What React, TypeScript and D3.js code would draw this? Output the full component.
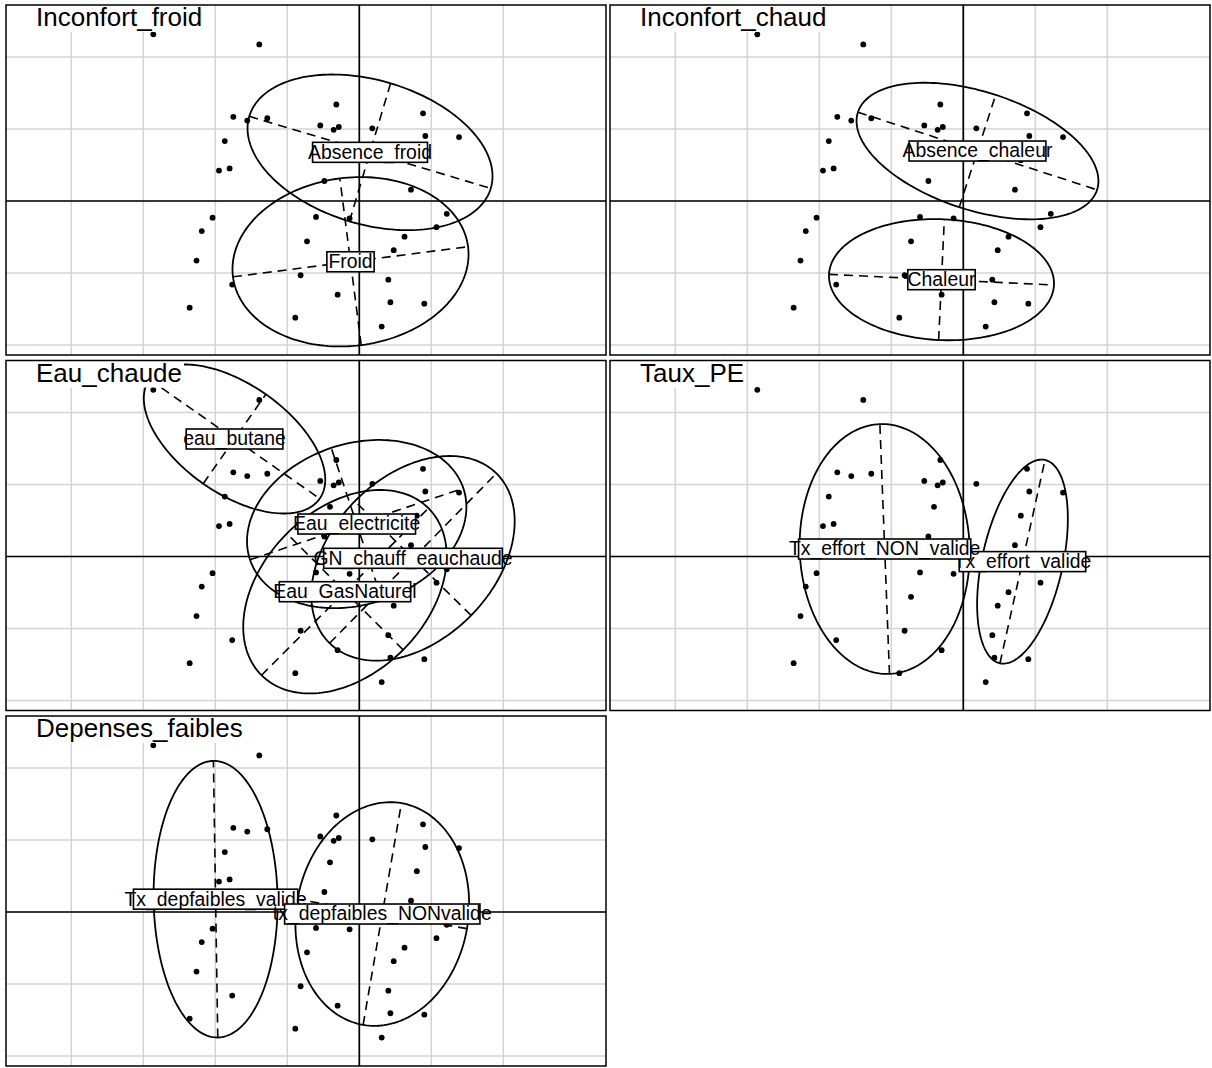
import React from "react";
import * as d3 from "d3";

// Individuals (same coordinates in every panel), in grid units (d = 1)
const pointX = [
  -2.861, -1.389, -0.319, -1.75, -1.556, -1.278, -0.542, -0.356, -0.285, 0.181,
  0.885, 0.917, 1.385, -1.868, -0.407, 0.799, -1.949, -1.801, -0.485, 0.718,
  -2.038, -0.601, -0.135, -2.188, 1.072, 0.628, -0.726, 0.478, -2.261, -0.815,
  0.403, -1.765, -0.301, 0.432, 0.903, -2.356, -0.889, 0.311, 1.215,
];
const pointY = [
  2.315, 2.174, 1.34, 1.169, 1.117, 1.149, 1.049, 0.989, 1.028, 1.01,
  1.218, 0.903, 0.888, 0.832, 0.69, 0.567, 0.422, 0.453, 0.278, 0.157,
  -0.232, -0.221, -0.24, -0.418, -0.364, -0.496, -0.56, -0.683, -0.828, -1.031,
  -1.093, -1.161, -1.301, -1.406, -1.426, -1.481, -1.621, -1.744, -0.178,
];

// Grid positions (grid units)
const gridXValues = [-4, -3, -2, -1, 0, 1, 2];
const gridYValues = [-2, -1, 0, 1, 2];

const panelTitles = [
  "Inconfort_froid",
  "Inconfort_chaud",
  "Eau_chaude",
  "Taux_PE",
  "Depenses_faibles",
];

// Class ellipses: centre (cx, cy), semi-axes a, b, angle of major axis (deg)
const classesInconfortFroid = [
  { label: "Absence_froid", cx: 0.149, cy: 0.676, a: 1.75, b: 1.0, angle: -16.6 },
  { label: "Froid", cx: -0.122, cy: -0.844, a: 1.646, b: 1.167, angle: 7.3 },
];
const classesInconfortChaud = [
  { label: "Absence_chaleur", cx: 0.197, cy: 0.694, a: 1.746, b: 0.82, angle: -18 },
  { label: "Chaleur", cx: -0.303, cy: -1.093, a: 1.564, b: 0.839, angle: -2.7 },
];
const classesEauChaude = [
  { label: "Eau_GasNaturel", cx: -0.199, cy: -0.489, a: 1.64, b: 1.142, angle: 45 },
  { label: "Eau_electricite", cx: -0.036, cy: 0.451, a: 1.5625, b: 1.115, angle: 18.5 },
  { label: "GN_chauff_eauchaude", cx: 0.746, cy: -0.025, a: 1.653, b: 1.132, angle: 45.5 },
  { label: "eau_butane", cx: -1.733, cy: 1.632, a: 1.444, b: 0.758, angle: -35 },
];
const classesTauxPE = [
  { label: "Tx_effort_valide", cx: 0.822, cy: -0.071, a: 1.446, b: 0.56, angle: 77.5 },
  { label: "Tx_effort_NON_valide", cx: -1.092, cy: 0.104, a: 1.736, b: 1.18, angle: 92.2 },
];
const classesDepensesFaibles = [
  { label: "Tx_depfaibles_valide", cx: -1.996, cy: 0.178, a: 1.921, b: 0.861, angle: 90.9 },
  { label: "tx_depfaibles_NONvalide", cx: 0.319, cy: -0.028, a: 1.5625, b: 1.194, angle: 80.2 },
];

const panelClasses = [
  classesInconfortFroid,
  classesInconfortChaud,
  classesEauChaude,
  classesTauxPE,
  classesDepensesFaibles,
];

const SVG_W = 1212;
const SVG_H = 1068;
const PW = 600;
const PH = 350;
const UNIT = 72;
const ORIGIN_X = 353.3;
const ORIGIN_Y = 196;
const FONT = '"Liberation Sans", Arial, Helvetica, sans-serif';
const LABEL_SIZE = 19.4;
const TITLE_SIZE = 26;

let ctx: CanvasRenderingContext2D | null = null;
function measure(text: string, size: number): number {
  if (!ctx) {
    const c = document.createElement("canvas");
    ctx = c.getContext("2d");
  }
  if (!ctx) return text.length * size * 0.5;
  ctx.font = `${size}px "Liberation Sans", Arial, sans-serif`;
  return ctx.measureText(text).width;
}

type Cls = { label: string; cx: number; cy: number; a: number; b: number; angle: number };

function Panel({ title, classes, left, top, idx }: { title: string; classes: Cls[]; left: number; top: number; idx: number }) {
  const x = d3.scaleLinear().domain([-ORIGIN_X / UNIT, (PW - ORIGIN_X) / UNIT]).range([0, PW]);
  const y = d3.scaleLinear().domain([-(PH - ORIGIN_Y) / UNIT, ORIGIN_Y / UNIT]).range([PH, 0]);
  const line = d3
    .line<[number, number]>()
    .x((d) => x(d[0]))
    .y((d) => y(d[1]))
    .curve(d3.curveLinearClosed);

  const titleW = measure(title, TITLE_SIZE);
  const clipId = `clip-${idx}`;

  return (
    <g transform={`translate(${left},${top})`}>
      <defs>
        <clipPath id={clipId}>
          <rect x={0} y={0} width={PW} height={PH} />
        </clipPath>
      </defs>
      <rect x={0} y={0} width={PW} height={PH} fill="white" />
      <g clipPath={`url(#${clipId})`}>
        {gridXValues.map((v) => (
          <line key={`gx${v}`} x1={x(v)} x2={x(v)} y1={0} y2={PH} stroke="#d3d3d3" strokeWidth={1.5} />
        ))}
        {gridYValues.map((v) => (
          <line key={`gy${v}`} x1={0} x2={PW} y1={y(v)} y2={y(v)} stroke="#d3d3d3" strokeWidth={1.5} />
        ))}
        <line x1={x(0)} x2={x(0)} y1={0} y2={PH} stroke="black" strokeWidth={1.7} />
        <line x1={0} x2={PW} y1={y(0)} y2={y(0)} stroke="black" strokeWidth={1.7} />
        {pointX.map((px, i) => (
          <circle key={`p${i}`} cx={x(px)} cy={y(pointY[i])} r={2.9} fill="black" />
        ))}
        {classes.map((c, k) => {
          const th = (c.angle * Math.PI) / 180;
          const ct = Math.cos(th);
          const st = Math.sin(th);
          const pts: [number, number][] = d3.range(180).map((i) => {
            const t = (2 * Math.PI * i) / 180;
            return [
              c.cx + c.a * Math.cos(t) * ct - c.b * Math.sin(t) * st,
              c.cy + c.a * Math.cos(t) * st + c.b * Math.sin(t) * ct,
            ];
          });
          return (
            <g key={`e${k}`}>
              <path d={line(pts) || ""} fill="none" stroke="black" strokeWidth={1.8} />
              <line
                x1={x(c.cx - c.a * ct)}
                y1={y(c.cy - c.a * st)}
                x2={x(c.cx + c.a * ct)}
                y2={y(c.cy + c.a * st)}
                stroke="black"
                strokeWidth={1.6}
                strokeDasharray="9,6"
              />
              <line
                x1={x(c.cx + c.b * st)}
                y1={y(c.cy - c.b * ct)}
                x2={x(c.cx - c.b * st)}
                y2={y(c.cy + c.b * ct)}
                stroke="black"
                strokeWidth={1.6}
                strokeDasharray="9,6"
              />
            </g>
          );
        })}
        {classes.map((c, k) => {
          const tw = measure(c.label, LABEL_SIZE);
          const bw = 0.848 * tw + 9.8;
          const bh = 20;
          const X = x(c.cx);
          const Y = y(c.cy);
          return (
            <g key={`l${k}`}>
              <rect x={X - bw / 2} y={Y - bh / 2} width={bw} height={bh} fill="white" stroke="black" strokeWidth={1.6} />
              <text x={X} y={Y + 6.4} textAnchor="middle" fontFamily={FONT} fontSize={LABEL_SIZE} fill="black">
                {c.label}
              </text>
            </g>
          );
        })}
        <rect x={0} y={0} width={30 + titleW + 2} height={27} fill="white" />
        <text x={30} y={21} fontFamily={FONT} fontSize={TITLE_SIZE} fill="black">
          {title}
        </text>
      </g>
      <rect x={0} y={0} width={PW} height={PH} fill="none" stroke="black" strokeWidth={1.5} />
    </g>
  );
}

export default function App() {
  return (
    <svg
      width={SVG_W}
      height={SVG_H}
      style={{ position: "absolute", left: 0, top: 0, display: "block", background: "white" }}
    >
      <rect x={0} y={0} width={SVG_W} height={SVG_H} fill="white" />
      {panelTitles.map((t, i) => (
        <Panel
          key={t}
          idx={i}
          title={t}
          classes={panelClasses[i]}
          left={6 + 604 * (i % 2)}
          top={5 + 355.5 * Math.floor(i / 2)}
        />
      ))}
    </svg>
  );
}
